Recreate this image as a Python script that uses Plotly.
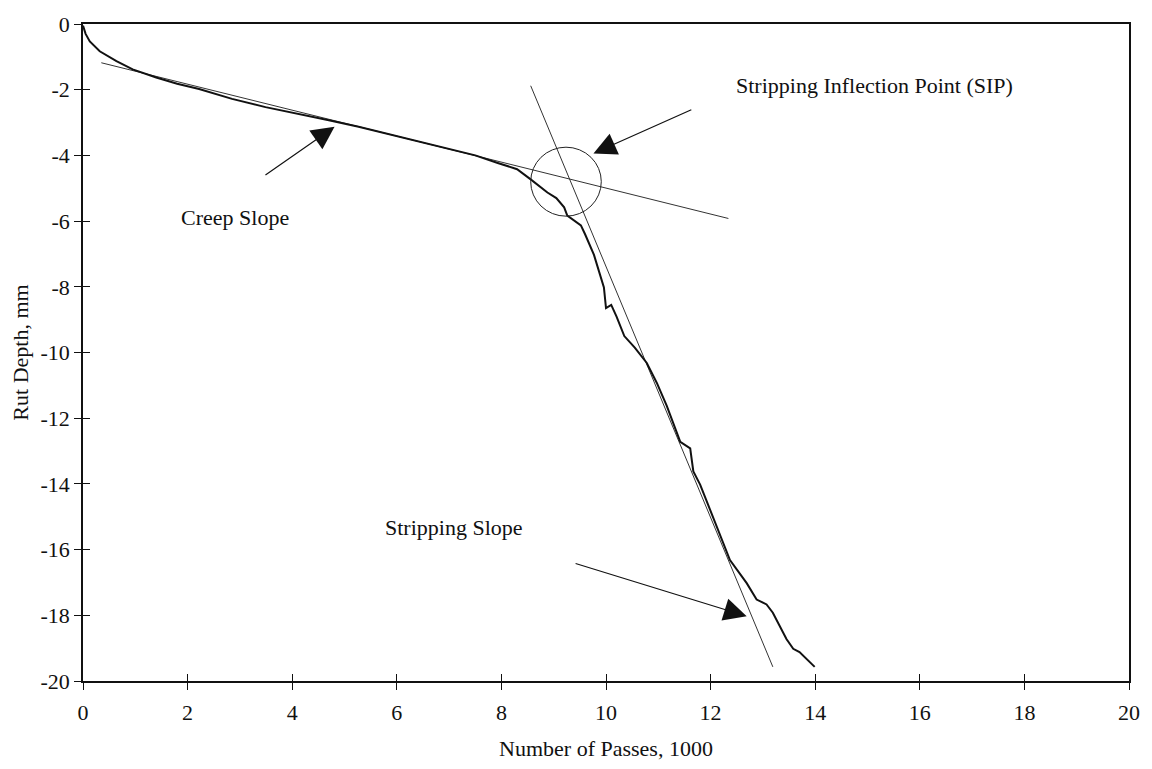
import plotly.graph_objects as go

# Measured rut-depth curve (x in thousands of passes, y in mm)
passes = [0, 0.05, 0.13, 0.32, 0.64, 0.95, 1.40, 1.8, 2.22, 2.85, 3.49, 4.12, 4.7, 5.27, 6.0, 6.5, 7.0,
          7.5, 7.93, 8.3, 8.56, 8.88, 9.05, 9.20, 9.26, 9.52, 9.6, 9.77, 9.96, 10.0, 10.1, 10.2, 10.35,
          10.55, 10.78, 10.97, 11.16, 11.42, 11.61, 11.67, 11.80, 12.05, 12.37,
          12.69, 12.88, 13.07, 13.19, 13.45, 13.58, 13.70, 13.83, 13.99]
rut = [-0.05, -0.3, -0.53, -0.83, -1.13, -1.38, -1.63, -1.82, -1.98, -2.28, -2.53, -2.73, -2.93, -3.13, -3.42, -3.6, -3.82,
       -4.0, -4.23, -4.42, -4.73, -5.13, -5.3, -5.58, -5.83, -6.13, -6.4, -7.03, -8.02, -8.65, -8.55, -8.9, -9.5,
       -9.85, -10.32, -10.92, -11.62, -12.72, -12.92, -13.62, -14.02, -15.02, -16.32,
       -17.02, -17.52, -17.67, -17.92, -18.72, -19.02, -19.12, -19.32, -19.57]

# Fitted slope lines (end points)
creep_x = [0.35, 12.34]
creep_y = [-1.18, -5.92]
strip_x = [8.56, 13.19]
strip_y = [-1.88, -19.57]

# SIP circle bounds
circle_x = [8.56, 9.91]
circle_y = [-3.75, -5.85]

x_ticks = list(range(0, 21, 2))
y_ticks = list(range(-20, 1, 2))
y_tick_text = [str(v) for v in y_ticks]  # plain hyphen minus

FONT = "Liberation Serif, Times New Roman, serif"
INK = "#111111"
FS = 22

fig = go.Figure()
fig.add_trace(go.Scatter(x=creep_x, y=creep_y, mode="lines",
                         line=dict(color="#333333", width=1), hoverinfo="skip"))
fig.add_trace(go.Scatter(x=strip_x, y=strip_y, mode="lines",
                         line=dict(color="#333333", width=1), hoverinfo="skip"))
fig.add_trace(go.Scatter(x=passes, y=rut, mode="lines",
                         line=dict(color=INK, width=2), hoverinfo="skip"))
# invisible trace to carry the inside-tick overlay axes
fig.add_trace(go.Scatter(x=[0], y=[0], xaxis="x2", yaxis="y2", mode="markers",
                         marker=dict(opacity=0), hoverinfo="skip"))

fig.add_shape(type="circle", xref="x", yref="y",
              x0=circle_x[0], x1=circle_x[1], y0=circle_y[0], y1=circle_y[1],
              line=dict(color="#222222", width=1))

arrow_common = dict(showarrow=True, arrowhead=2, arrowsize=3.8, arrowwidth=1.2,
                    arrowcolor=INK, axref="x", ayref="y", xref="x", yref="y", text="")
fig.add_annotation(x=4.81, y=-3.13, ax=3.46, ay=-4.63, **arrow_common)
fig.add_annotation(x=9.76, y=-3.94, ax=11.66, ay=-2.59, **arrow_common)
fig.add_annotation(x=12.69, y=-18.03, ax=9.39, ay=-16.41, **arrow_common)

label_font = dict(family=FONT, size=FS, color=INK)
fig.add_annotation(x=2.9, y=-5.89, text="Creep Slope", showarrow=False,
                   font=label_font, xanchor="center", yanchor="middle")
fig.add_annotation(x=7.09, y=-15.33, text="Stripping Slope", showarrow=False,
                   font=label_font, xanchor="center", yanchor="middle")
fig.add_annotation(x=12.44, y=-1.87, text="Stripping Inflection Point (SIP)", showarrow=False,
                   font=label_font, xanchor="left", yanchor="middle")

axis_common = dict(showgrid=False, zeroline=False, showline=True, linecolor=INK,
                   linewidth=1.5, mirror=True, ticks="outside", ticklen=7,
                   tickcolor=INK, tickwidth=1.2,
                   tickfont=dict(family=FONT, size=FS, color=INK))
fig.update_layout(
    width=1152, height=769,
    margin=dict(l=83, r=18, t=16, b=86),
    paper_bgcolor="white", plot_bgcolor="white",
    showlegend=False,
    xaxis=dict(range=[0, 20], tickvals=x_ticks, ticklabelstandoff=4, **axis_common,
               title=dict(text="Number of Passes, 1000", standoff=16,
                          font=dict(family=FONT, size=FS, color=INK))),
    yaxis=dict(range=[-20, 0], tickvals=y_ticks, ticktext=y_tick_text, **axis_common,
               title=dict(text="Rut Depth, mm", standoff=6,
                          font=dict(family=FONT, size=FS, color=INK))),
    xaxis2=dict(range=[0, 20], tickvals=x_ticks, overlaying="x", anchor="y2", side="bottom",
                showgrid=False, zeroline=False, showline=False, showticklabels=False,
                ticks="inside", ticklen=7, tickcolor=INK, tickwidth=1.2),
    yaxis2=dict(range=[-20, 0], tickvals=y_ticks, overlaying="y", anchor="x2", side="left",
                showgrid=False, zeroline=False, showline=False, showticklabels=False,
                ticks="inside", ticklen=7, tickcolor=INK, tickwidth=1.2),
)

fig.write_html("out.html")
